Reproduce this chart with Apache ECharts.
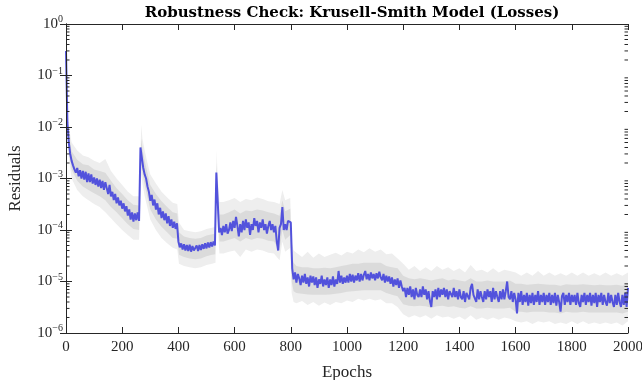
<!DOCTYPE html>
<html><head><meta charset="utf-8">
<script src="https://cdn.jsdelivr.net/npm/echarts@6/dist/echarts.min.js"></script>
<style>html,body{margin:0;padding:0;background:#fff}#c{width:642px;height:380px}</style>
</head><body><div id="c"></div>
<script>
// ---- data ----
const titleText = 'Robustness Check: Krusell-Smith Model (Losses)';
const xName = 'Epochs';
const yName = 'Residuals';
const xTicks = [0,200,400,600,800,1000,1200,1400,1600,1800,2000];
const yTicks = [1e-6,1e-5,1e-4,1e-3,1e-2,1e-1,1];
const epochStep = 5; // residual sampled every 5 epochs, 0..2000
const residual = [
3.0e-1,1.2e-2,5.0e-3,3.0e-3,2.2e-3,1.8e-3,1.5e-3,1.3e-3,1.6e-3,1.1e-3,1.45e-3,1.0e-3,1.4e-3,9.5e-4,1.35e-3,8.5e-4,1.25e-3,8.5e-4,1.2e-3,8.0e-4,
1.05e-3,7.5e-4,1.0e-3,7.0e-4,9.5e-4,6.5e-4,9.0e-4,6.0e-4,8.5e-4,6.5e-4,5.0e-4,7.5e-4,4.5e-4,5.5e-4,3.8e-4,5.0e-4,3.3e-4,4.3e-4,3.0e-4,3.7e-4,
2.6e-4,3.3e-4,2.3e-4,2.9e-4,1.9e-4,2.5e-4,1.6e-4,2.2e-4,1.45e-4,2.1e-4,1.55e-4,2.2e-4,1.5e-4,4.0e-3,2.5e-3,1.6e-3,1.2e-3,1.0e-3,7.0e-4,5.5e-4,
3.7e-4,4.8e-4,3.0e-4,3.9e-4,2.5e-4,3.3e-4,2.0e-4,2.7e-4,1.7e-4,2.3e-4,1.55e-4,2.1e-4,1.35e-4,1.85e-4,1.2e-4,1.6e-4,1.1e-4,1.45e-4,1.05e-4,1.35e-4,
6.0e-5,4.6e-5,5.5e-5,4.2e-5,5.3e-5,4.0e-5,5.1e-5,3.9e-5,5.2e-5,3.8e-5,4.9e-5,4.0e-5,3.7e-5,5.0e-5,3.9e-5,5.1e-5,4.1e-5,5.3e-5,4.3e-5,5.5e-5,
4.4e-5,5.7e-5,4.6e-5,5.8e-5,4.8e-5,6.0e-5,5.0e-5,1.3e-3,3.5e-4,9.0e-5,1.1e-4,8.0e-5,1.2e-4,9.0e-5,1.3e-4,8.5e-5,1.0e-4,1.4e-4,9.5e-5,1.5e-4,
1.1e-4,1.8e-4,1.2e-4,7.5e-5,1.3e-4,9.0e-5,1.5e-4,1.0e-4,1.6e-4,1.1e-4,1.4e-4,8.0e-5,1.3e-4,1.0e-4,1.7e-4,1.2e-4,1.5e-4,9.0e-5,1.4e-4,1.1e-4,
1.6e-4,1.0e-4,1.3e-4,8.5e-5,1.2e-4,1.5e-4,1.0e-4,1.3e-4,9.0e-5,1.2e-4,6.0e-5,4.0e-5,1.1e-4,1.3e-4,2.8e-4,1.0e-4,1.3e-4,1.0e-4,1.5e-4,1.6e-4,
1.4e-4,1.8e-5,1.1e-5,1.5e-5,9.5e-6,1.4e-5,1.15e-5,8.5e-6,1.3e-5,9.5e-6,1.4e-5,9.0e-6,1.2e-5,8.0e-6,1.3e-5,9.5e-6,1.25e-5,8.5e-6,1.2e-5,7.5e-6,
1.1e-5,9.0e-6,1.3e-5,8.0e-6,1.1e-5,8.5e-6,1.2e-5,7.5e-6,1.1e-5,8.5e-6,1.25e-5,8.0e-6,1.1e-5,9.0e-6,1.6e-5,9.5e-6,1.3e-5,9.0e-6,1.2e-5,9.5e-6,
1.3e-5,9.5e-6,1.4e-5,1.0e-5,1.35e-5,9.5e-6,1.3e-5,1.05e-5,1.45e-5,1.0e-5,1.4e-5,1.05e-5,1.35e-5,1.6e-5,1.1e-5,1.4e-5,1.05e-5,1.5e-5,1.15e-5,1.4e-5,
1.05e-5,1.45e-5,1.15e-5,1.55e-5,1.2e-5,1.05e-5,1.4e-5,9.5e-6,1.3e-5,1.0e-5,1.25e-5,9.0e-6,1.2e-5,8.0e-6,1.1e-5,8.5e-6,1.15e-5,7.5e-6,1.05e-5,8.0e-6,
6.5e-6,7.5e-6,5.0e-6,7.5e-6,5.5e-6,8.0e-6,5.0e-6,7.0e-6,4.5e-6,7.5e-6,5.5e-6,5.0e-6,7.0e-6,5.0e-6,8.0e-6,5.5e-6,7.0e-6,4.5e-6,6.5e-6,4.2e-6,
3.2e-6,6.5e-6,5.0e-6,7.0e-6,4.5e-6,7.5e-6,5.0e-6,7.0e-6,5.5e-6,7.5e-6,5.0e-6,7.0e-6,4.5e-6,6.5e-6,7.0e-6,5.0e-6,7.5e-6,5.0e-6,6.5e-6,4.5e-6,
7.0e-6,5.0e-6,4.5e-6,6.5e-6,4.0e-6,6.0e-6,6.5e-6,4.5e-6,7.5e-6,9.0e-6,5.5e-6,6.0e-6,4.0e-6,7.0e-6,4.5e-6,6.5e-6,5.0e-6,4.0e-6,6.5e-6,4.5e-6,
7.0e-6,5.0e-6,6.5e-6,4.0e-6,7.5e-6,4.5e-6,6.5e-6,5.0e-6,4.0e-6,6.5e-6,4.5e-6,7.0e-6,4.5e-6,6.5e-6,1.0e-5,5.0e-6,4.5e-6,6.5e-6,4.0e-6,6.0e-6,
4.5e-6,2.4e-6,6.0e-6,4.0e-6,6.5e-6,3.5e-6,5.5e-6,4.0e-6,6.0e-6,3.4e-6,5.5e-6,3.8e-6,6.0e-6,3.5e-6,5.5e-6,4.0e-6,6.5e-6,3.5e-6,5.5e-6,4.0e-6,
6.0e-6,3.5e-6,5.5e-6,4.0e-6,6.0e-6,3.5e-6,5.5e-6,3.8e-6,6.0e-6,3.4e-6,5.5e-6,4.0e-6,2.6e-6,5.2e-6,6.0e-6,3.5e-6,5.5e-6,4.0e-6,6.0e-6,3.5e-6,
5.5e-6,4.0e-6,5.5e-6,3.5e-6,6.0e-6,3.8e-6,3.2e-6,5.5e-6,4.0e-6,6.0e-6,3.5e-6,5.5e-6,4.0e-6,6.0e-6,3.4e-6,5.5e-6,3.8e-6,6.0e-6,3.2e-6,5.5e-6,
4.0e-6,6.0e-6,3.5e-6,5.5e-6,4.0e-6,3.4e-6,6.0e-6,3.8e-6,5.5e-6,4.0e-6,3.2e-6,5.5e-6,3.5e-6,6.0e-6,4.0e-6,3.2e-6,5.5e-6,3.5e-6,6.0e-6,3.2e-6,
7.5e-6
];
const bandEpochs = [0,5,10,20,40,60,80,100,120,140,160,180,200,220,240,260,
264,268,272,280,290,300,320,340,360,380,396,
402,420,440,460,480,500,520,532,
536,540,546,560,580,600,620,640,660,680,700,720,740,760,770,780,798,
803,810,
820,840,860,880,900,920,940,960,980,1000,1020,1040,1060,1080,1100,1120,1140,1160,1180,
1200,1220,1240,1260,1280,1300,1320,1340,1360,1380,1400,1420,1440,1460,1480,1500,1520,1540,1560,1580,
1600,1620,1640,1660,1680,1700,1720,1740,1760,1780,1800,1820,1840,1860,1880,1900,1920,1940,1960,1980,2000];
const innerHi = [0.34,1.8e-2,7.5e-3,3.4e-3,2.3e-3,1.9e-3,1.8e-3,1.5e-3,1.4e-3,1.3e-3,9.0e-4,6.5e-4,5.0e-4,3.8e-4,3.1e-4,3.0e-4,
3.0e-4,6.0e-3,3.8e-3,2.2e-3,1.3e-3,7.5e-4,5.0e-4,3.6e-4,2.8e-4,2.2e-4,2.1e-4,
9.0e-5,7.5e-5,7.0e-5,6.8e-5,7.0e-5,7.8e-5,8.3e-5,8.5e-5,
2.0e-3,6.0e-4,2.0e-4,2.0e-4,2.2e-4,2.5e-4,2.1e-4,2.4e-4,2.3e-4,2.5e-4,2.4e-4,2.2e-4,2.1e-4,1.9e-4,3.8e-4,2.3e-4,2.6e-4,
3.5e-5,2.3e-5,
2.0e-5,1.9e-5,1.9e-5,1.8e-5,1.8e-5,1.85e-5,1.8e-5,1.9e-5,2.0e-5,2.1e-5,2.2e-5,2.2e-5,2.3e-5,2.3e-5,2.3e-5,2.3e-5,2.0e-5,1.9e-5,1.8e-5,
1.3e-5,1.15e-5,1.1e-5,1.15e-5,1.1e-5,1.05e-5,1.1e-5,1.15e-5,1.05e-5,1.1e-5,1.05e-5,1.0e-5,1.15e-5,1.0e-5,1.0e-5,1.05e-5,1.0e-5,1.0e-5,1.0e-5,1.05e-5,
9.0e-6,9.0e-6,8.6e-6,8.8e-6,9.0e-6,8.8e-6,8.6e-6,8.6e-6,8.3e-6,8.8e-6,8.6e-6,8.6e-6,8.8e-6,8.6e-6,8.5e-6,8.6e-6,8.5e-6,8.5e-6,8.6e-6,8.3e-6,9.0e-6];
const innerLo = [0.27,8.0e-3,3.5e-3,1.5e-3,9.0e-4,7.0e-4,6.0e-4,5.2e-4,4.5e-4,3.8e-4,2.8e-4,2.2e-4,1.7e-4,1.3e-4,1.05e-4,1.0e-4,
1.0e-4,2.0e-3,1.3e-3,7.5e-4,4.3e-4,2.5e-4,1.6e-4,1.15e-4,9.0e-5,7.0e-5,6.8e-5,
3.3e-5,3.0e-5,2.8e-5,2.7e-5,2.8e-5,3.1e-5,3.3e-5,3.4e-5,
8.0e-4,2.0e-4,6.0e-5,6.0e-5,6.5e-5,7.0e-5,6.0e-5,7.0e-5,6.5e-5,7.0e-5,6.8e-5,6.2e-5,6.0e-5,4.0e-5,1.0e-4,6.5e-5,8.0e-5,
1.0e-5,6.5e-6,
6.0e-6,5.8e-6,5.6e-6,5.5e-6,5.5e-6,5.5e-6,5.6e-6,5.8e-6,6.0e-6,6.3e-6,6.5e-6,6.6e-6,6.8e-6,6.8e-6,6.8e-6,6.8e-6,6.0e-6,5.5e-6,5.2e-6,
3.6e-6,3.4e-6,3.3e-6,3.4e-6,3.3e-6,3.1e-6,3.3e-6,3.4e-6,3.2e-6,3.3e-6,3.1e-6,3.0e-6,3.3e-6,3.0e-6,3.0e-6,3.1e-6,3.0e-6,3.0e-6,3.0e-6,3.1e-6,
2.6e-6,2.6e-6,2.5e-6,2.6e-6,2.6e-6,2.6e-6,2.5e-6,2.5e-6,2.4e-6,2.6e-6,2.5e-6,2.5e-6,2.6e-6,2.5e-6,2.5e-6,2.5e-6,2.5e-6,2.5e-6,2.5e-6,2.4e-6,2.6e-6];
const outerHi = [0.38,2.5e-2,1.0e-2,5.0e-3,3.5e-3,2.8e-3,2.6e-3,2.2e-3,2.0e-3,2.4e-3,1.4e-3,1.0e-3,7.5e-4,5.5e-4,4.5e-4,4.5e-4,
4.5e-4,1.1e-2,6.0e-3,3.5e-3,2.0e-3,1.2e-3,8.0e-4,5.5e-4,4.3e-4,3.4e-4,3.2e-4,
1.4e-4,1.0e-4,9.5e-5,9.0e-5,9.5e-5,1.05e-4,1.1e-4,1.15e-4,
3.5e-3,1.0e-3,3.5e-4,3.5e-4,3.8e-4,4.2e-4,3.5e-4,4.0e-4,3.8e-4,4.3e-4,4.0e-4,3.6e-4,3.5e-4,3.2e-4,6.0e-4,3.8e-4,4.2e-4,
6.0e-5,4.0e-5,
3.6e-5,3.0e-5,3.8e-5,2.9e-5,3.5e-5,3.0e-5,3.3e-5,3.6e-5,3.2e-5,3.8e-5,3.5e-5,4.2e-5,3.7e-5,4.4e-5,3.8e-5,4.2e-5,3.4e-5,3.5e-5,2.8e-5,
2.2e-5,1.7e-5,2.0e-5,1.6e-5,1.9e-5,1.6e-5,2.0e-5,1.7e-5,1.9e-5,1.6e-5,1.8e-5,1.5e-5,2.1e-5,1.6e-5,1.7e-5,1.5e-5,1.8e-5,1.5e-5,1.7e-5,1.6e-5,
1.5e-5,1.3e-5,1.5e-5,1.3e-5,1.6e-5,1.3e-5,1.5e-5,1.3e-5,1.45e-5,1.3e-5,1.5e-5,1.3e-5,1.5e-5,1.3e-5,1.45e-5,1.3e-5,1.5e-5,1.3e-5,1.45e-5,1.3e-5,1.5e-5];
const outerLo = [0.24,6.0e-3,2.6e-3,1.0e-3,6.0e-4,4.5e-4,3.8e-4,3.2e-4,2.8e-4,2.2e-4,1.7e-4,1.3e-4,1.0e-4,8.0e-5,6.5e-5,6.5e-5,
7.0e-5,1.2e-3,8.0e-4,4.5e-4,2.7e-4,1.6e-4,1.0e-4,7.0e-5,5.5e-5,4.5e-5,4.2e-5,
2.2e-5,2.0e-5,1.9e-5,1.8e-5,1.9e-5,2.1e-5,2.2e-5,2.3e-5,
5.0e-4,1.2e-4,3.5e-5,3.5e-5,3.8e-5,4.0e-5,3.0e-5,4.2e-5,3.8e-5,4.2e-5,4.0e-5,3.6e-5,3.5e-5,2.6e-5,6.0e-5,3.8e-5,4.5e-5,
6.0e-6,4.0e-6,
3.8e-6,4.2e-6,3.5e-6,4.0e-6,3.4e-6,3.9e-6,3.5e-6,4.0e-6,3.8e-6,4.3e-6,4.0e-6,4.6e-6,4.3e-6,4.6e-6,4.3e-6,4.5e-6,3.8e-6,3.8e-6,3.2e-6,
2.3e-6,2.0e-6,2.2e-6,2.0e-6,2.2e-6,1.9e-6,2.2e-6,2.0e-6,2.1e-6,1.9e-6,2.1e-6,1.8e-6,2.2e-6,1.8e-6,2.0e-6,1.8e-6,2.0e-6,1.8e-6,2.0e-6,1.9e-6,
1.7e-6,1.6e-6,1.7e-6,1.5e-6,1.7e-6,1.6e-6,1.7e-6,1.5e-6,1.6e-6,1.5e-6,1.7e-6,1.5e-6,1.7e-6,1.5e-6,1.6e-6,1.5e-6,1.6e-6,1.5e-6,1.6e-6,1.4e-6,1.7e-6];

// ---- chart ----
const serif = '"Liberation Serif", "DejaVu Serif", serif';
const axisColor = '#262626';
const pair = (xs, ys) => ys.map((v, i) => [xs[i], v]);
const lineData = residual.map((v, i) => [i * epochStep, v]);
const minorTicks = [];
for (let k = -6; k < 0; k++) for (let m = 2; m <= 9; m++) minorTicks.push(m * Math.pow(10, k));

function bandSeries(ys, color, z) {
  return { type: 'line', data: pair(bandEpochs, ys), showSymbol: false, symbol: 'none',
    lineStyle: { width: 0, opacity: 0 }, areaStyle: { color: color, opacity: 1, origin: 'start' },
    z: z, silent: true, animation: false };
}

const chart = echarts.init(document.getElementById('c'), null, { renderer: 'canvas' });
const xBase = { type: 'value', min: xTicks[0], max: xTicks[xTicks.length - 1], interval: 200, z: 10,
  axisLine: { show: true, onZero: false, lineStyle: { color: axisColor, width: 1 } },
  axisTick: { show: true, inside: true, length: 6, lineStyle: { color: axisColor } },
  splitLine: { show: false } };
const yBase = { type: 'log', min: yTicks[0], max: yTicks[yTicks.length - 1], logBase: 10, splitNumber: 6, z: 10,
  axisLine: { show: true, lineStyle: { color: axisColor, width: 1 } },
  axisTick: { show: true, inside: true, length: 6, lineStyle: { color: axisColor } },
  splitLine: { show: false }, minorTick: { show: false } };

chart.setOption({
  animation: false,
  backgroundColor: '#ffffff',
  title: { text: titleText, left: 347, top: 1, textAlign: 'center',
    textStyle: { fontFamily: '"DejaVu Serif", serif', fontWeight: 'bold', fontSize: 15, color: '#000' } },
  grid: { left: 66, right: 14, top: 24, bottom: 47, containLabel: false, outerBoundsMode: 'none' },
  xAxis: [
    Object.assign({}, xBase, { position: 'bottom', name: xName, nameLocation: 'middle', nameGap: 31,
      nameTextStyle: { fontFamily: serif, fontSize: 17, color: axisColor },
      axisLabel: { show: true, margin: 7, fontFamily: serif, fontSize: 15, color: axisColor,
        formatter: function (v) { return String(v); },
        showMinLabel: true, showMaxLabel: true, hideOverlap: false } }),
    Object.assign({}, xBase, { position: 'top', axisLabel: { show: false } })
  ],
  yAxis: [
    Object.assign({}, yBase, { position: 'left', name: yName, nameLocation: 'middle', nameGap: 42,
      nameTextStyle: { fontFamily: serif, fontSize: 17, color: axisColor },
      axisLabel: { show: true, margin: 3, align: 'right',
        formatter: function (v) { const e = Math.round(Math.log10(v)); return '{b|10}{s|' + (e < 0 ? '\u2212' + (-e) : e) + '}'; },
        rich: { b: { fontFamily: serif, fontSize: 15, color: axisColor },
                s: { fontFamily: serif, fontSize: 10, color: axisColor, padding: [0, 0, 9, 0] } } } }),
    Object.assign({}, yBase, { position: 'right', axisLabel: { show: false } })
  ],
  series: [
    bandSeries(outerHi, '#eeeeee', 1),
    bandSeries(innerHi, '#dbdbdb', 2),
    bandSeries(innerLo, '#eeeeee', 3),
    bandSeries(outerLo, '#ffffff', 4),
    { type: 'line', data: lineData, showSymbol: false, symbol: 'none', z: 5,
      lineStyle: { color: '#5252dc', width: 2 }, silent: true },
    { type: 'custom', data: minorTicks, z: 11, silent: true,
      renderItem: function (params, api) {
        const y = api.coord([0, api.value(0)])[1];
        const cs = params.coordSys;
        const st = { stroke: axisColor, lineWidth: 1 };
        return { type: 'group', children: [
          { type: 'line', shape: { x1: cs.x, y1: y, x2: cs.x + 3.5, y2: y }, style: st },
          { type: 'line', shape: { x1: cs.x + cs.width, y1: y, x2: cs.x + cs.width - 3.5, y2: y }, style: st }
        ] };
      } }
  ]
});
</script>
</body></html>
